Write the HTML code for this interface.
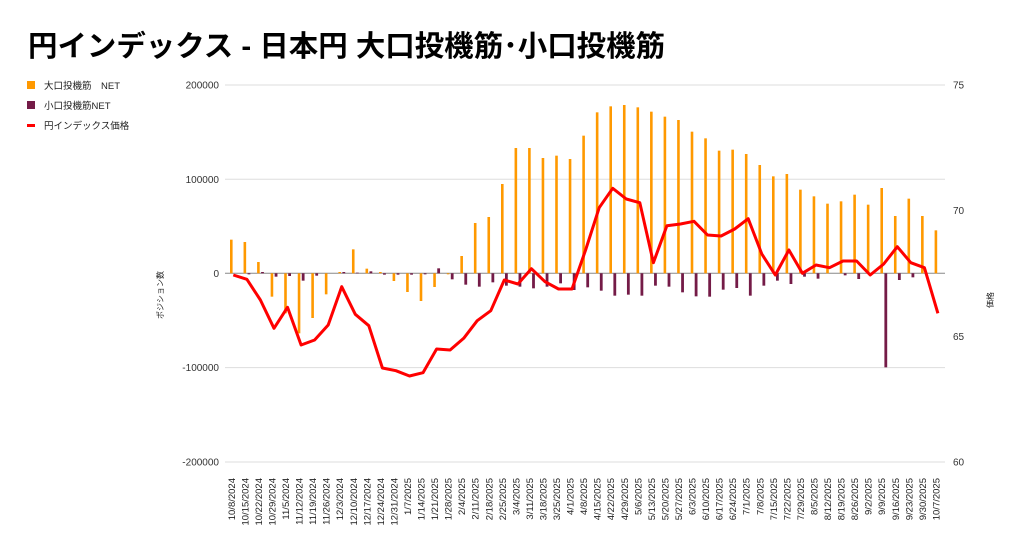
<!DOCTYPE html>
<html><head><meta charset="utf-8"><style>
body{margin:0;background:#fff;width:1024px;height:546px;overflow:hidden;font-family:"Liberation Sans","Noto Sans CJK JP",sans-serif}
</style></head><body>
<svg id="s" width="1024" height="546" xmlns="http://www.w3.org/2000/svg" font-family="Liberation Sans, Noto Sans CJK JP, sans-serif">
<text x="28" y="56" font-size="29" font-weight="bold" fill="#000" textLength="637" lengthAdjust="spacingAndGlyphs">円インデックス - 日本円 大口投機筋･小口投機筋</text>
<rect x="27" y="81" width="8" height="8" fill="#ff9900"/>
<text x="44" y="89" font-size="9.5" fill="#222">大口投機筋　NET</text>
<rect x="27" y="101" width="8" height="8" fill="#741b47"/>
<text x="44" y="109" font-size="9.5" fill="#222">小口投機筋NET</text>
<rect x="27" y="124" width="8" height="3" fill="#ff0000"/>
<text x="44" y="129" font-size="9.5" fill="#222">円インデックス価格</text>
<g id="g"></g>
</svg>
<script>
var g=document.getElementById('g'),h='';
var grid=[85,179.3,273.3,367.6,462];
grid.forEach(function(y,i){h+='<line x1="225" x2="945" y1="'+y+'" y2="'+y+'" stroke="'+(i==2?'#888':'#ddd')+'" stroke-width="1"/>';});
var ll=['200000','100000','0','-100000','-200000'];
ll.forEach(function(t,i){h+='<text x="219" y="'+(grid[i]+3.5)+'" font-size="10" fill="#333" text-anchor="end">'+t+'</text>';});
var rl=['75','70','65','60'];var ry=[85,210.7,336.3,462];
rl.forEach(function(t,i){h+='<text x="953" y="'+(ry[i]+3.5)+'" font-size="10" fill="#333">'+t+'</text>';});
h+='<text transform="translate(163,295) rotate(-90)" font-size="8" fill="#222" text-anchor="middle">ポジション数</text>';
h+='<text transform="translate(993,300) rotate(-90)" font-size="8" fill="#222" text-anchor="middle">価格</text>';
var o=[479,486,546,650,700,760,714,643,576,508,566,576,603,636,663,621,583,528,429,411,312,204,204,234,227,237,167,97,79,75,82,95,110,120,155,175,212,209,222,255,289,282,329,349,371,364,344,374,324,408,356,408,451];
var p=[580,583,576,590,588,602,587,580,576,578,574,584,584,584,583,565,598,614,620,607,617,620,625,620,610,630,622,632,647,644,647,617,620,637,649,650,629,624,647,617,602,612,590,596,580,586,597,580,862,600,592,580,580];
var r=[585,598,660,745,682,795,780,735,620,703,737,864,872,888,878,807,810,775,722,692,600,612,566,605,627,627,510,383,325,357,368,548,437,432,424,465,468,447,416,522,585,510,580,555,563,543,543,585,552,500,548,563,700];
var z=273.3,pts=[];
var d=new Date(2024,9,8);
for(var i=0;i<53;i++){
 var x=231.3+13.55*i;
 var yo=80+o[i]/3;
 h+='<rect x="'+(x-1.3)+'" y="'+Math.min(yo,z)+'" width="2.6" height="'+Math.abs(yo-z)+'" fill="#ff9900"/>';
 var yp=80+p[i]/3;
 if(Math.abs(yp-z)>0.5)h+='<rect x="'+(x+2.7)+'" y="'+Math.min(yp,z)+'" width="2.8" height="'+Math.abs(yp-z)+'" fill="#741b47"/>';
 pts.push((x+2).toFixed(1)+','+(80+r[i]/3).toFixed(1));
 var lab=(d.getMonth()+1)+'/'+d.getDate()+'/'+d.getFullYear();
 h+='<text transform="translate('+(x+3.5)+',478) rotate(-90)" font-size="9.5" fill="#222" text-anchor="end">'+lab+'</text>';
 d.setDate(d.getDate()+7);
}
h+='<polyline points="'+pts.join(' ')+'" fill="none" stroke="#ff0000" stroke-width="3" stroke-linejoin="round"/>';
g.innerHTML=h;
</script>
</body></html>
